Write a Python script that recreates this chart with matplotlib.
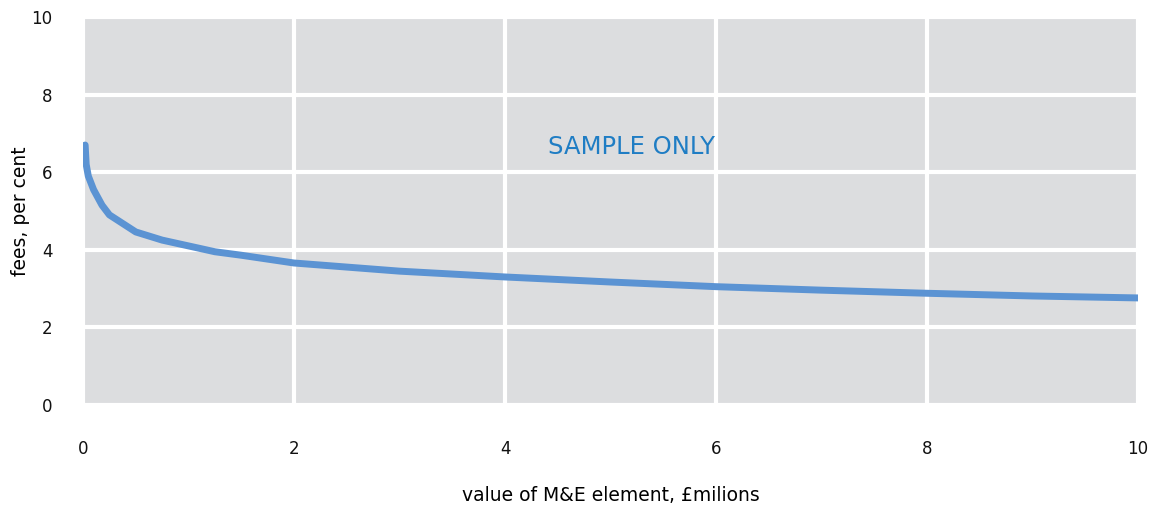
import matplotlib
matplotlib.use('Agg')
import matplotlib.pyplot as plt

# values
value = [0.02, 0.03, 0.05, 0.1, 0.18, 0.25, 0.5, 0.75, 1.0, 1.25, 1.5, 2, 3, 4, 5, 6, 7, 8, 9, 10]
fees = [6.7, 6.2, 5.9, 5.55, 5.15, 4.9, 4.46, 4.25, 4.1, 3.95, 3.86, 3.66, 3.45, 3.3, 3.17, 3.05, 2.96, 2.88, 2.81, 2.76]

x_ticks = [0, 2, 4, 6, 8, 10]
y_ticks = [0, 2, 4, 6, 8, 10]

fig = plt.figure(figsize=(11.58, 5.14), dpi=100)
ax = fig.add_axes([0.0717, 0.212, 0.9110, 0.755])
ax.set_facecolor('#dcdddf')

ax.plot(value, fees, color='#5b93d3', linewidth=5, solid_capstyle='round',
        solid_joinstyle='round', zorder=3)

ax.set_xlim(0, 10)
ax.set_ylim(0, 10)
ax.set_xticks(x_ticks)
ax.set_yticks(y_ticks)
ax.grid(True, color='white', linewidth=3)
ax.set_axisbelow(True)
for s in ax.spines.values():
    s.set_visible(False)
ax.tick_params(length=0, labelsize=12, colors='#111111')
ax.tick_params(axis='x', pad=25)
ax.tick_params(axis='y', pad=22)

ax.text(5.2, 6.65, 'SAMPLE ONLY', color='#1f7dc4', fontsize=17.5, ha='center', va='center')

ax.set_xlabel('value of M&E element, £milions', fontsize=13.5)
ax.set_ylabel('fees, per cent', fontsize=13.5)
ax.xaxis.set_label_coords(0.5, -0.232)
ax.xaxis.label.set_va('center')
ax.yaxis.set_label_coords(-0.0597, 0.5)
ax.yaxis.label.set_va('center')

fig.savefig('out.png', dpi=100)
